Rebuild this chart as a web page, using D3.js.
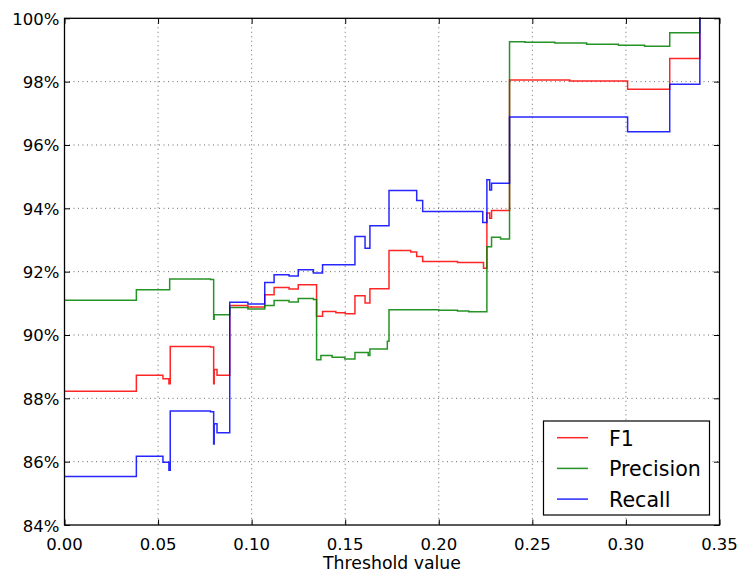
<!DOCTYPE html>
<html>
<head>
<meta charset="utf-8">
<script src="https://cdn.jsdelivr.net/npm/d3@7"></script>
<style>
  body { margin: 0; background: #fff; }
  svg { font-family: "DejaVu Sans", sans-serif; }
</style>
</head>
<body>
<div id="chart"></div>
<script>
// step curves: [threshold, percent]
const f1Points = [
    [0, 88.22], [0.0384, 88.73], [0.0526, 88.62], [0.0558, 88.46], [0.0565, 89.64],
    [0.0780, 89.62], [0.0797, 88.46], [0.0800, 88.91], [0.0815, 88.73], [0.0883, 90.93],
    [0.0980, 90.88], [0.1070, 91.27], [0.1120, 91.50], [0.1200, 91.45], [0.1249, 91.59],
    [0.1347, 90.59], [0.1379, 90.74], [0.1450, 90.70], [0.1500, 90.67], [0.1552, 91.24],
    [0.1606, 91.01], [0.1632, 91.46], [0.1734, 92.67], [0.1850, 92.62], [0.1882, 92.48],
    [0.1914, 92.32], [0.2100, 92.29], [0.2239, 92.11], [0.2257, 93.85], [0.2272, 93.69],
    [0.2282, 93.93], [0.2378, 98.05], [0.2700, 98.02], [0.3009, 97.76], [0.3234, 98.73],
    [0.3395, 100], [0.3400, 100]
]
const precisionPoints = [
    [0, 91.10], [0.0384, 91.43], [0.0562, 91.77], [0.0780, 91.75], [0.0797, 90.50],
    [0.0800, 90.64], [0.0883, 90.87], [0.0980, 90.82], [0.1070, 90.93], [0.1120, 91.09],
    [0.1200, 91.04], [0.1249, 91.15], [0.1330, 91.12], [0.1347, 89.22], [0.1370, 89.35],
    [0.1430, 89.30], [0.1498, 89.24], [0.1552, 89.45], [0.1623, 89.35], [0.1632, 89.56],
    [0.1725, 89.80], [0.1734, 90.80], [0.2000, 90.78], [0.2100, 90.76], [0.2160, 90.73],
    [0.2257, 92.79], [0.2282, 93.09], [0.2330, 93.03], [0.2378, 99.26], [0.2460, 99.24],
    [0.2620, 99.22], [0.2790, 99.18], [0.2960, 99.15], [0.3100, 99.12], [0.3234, 99.54],
    [0.3395, 100], [0.3400, 100]
]
const recallPoints = [
    [0, 85.53], [0.0384, 86.17], [0.0526, 85.98], [0.0558, 85.73], [0.0565, 87.60],
    [0.0780, 87.58], [0.0797, 86.56], [0.0800, 87.20], [0.0815, 86.91], [0.0883, 91.03],
    [0.0980, 90.98], [0.1070, 91.66], [0.1120, 91.90], [0.1200, 91.86], [0.1249, 92.06],
    [0.1330, 91.96], [0.1379, 92.22], [0.1552, 93.11], [0.1606, 92.74], [0.1632, 93.45],
    [0.1734, 94.56], [0.1882, 94.25], [0.1914, 93.90], [0.2235, 93.55], [0.2257, 94.90],
    [0.2272, 94.58], [0.2282, 94.79], [0.2378, 96.88], [0.3009, 96.42], [0.3234, 97.92],
    [0.3395, 100], [0.3400, 100]
]
const seriesNames = ["F1", "Precision", "Recall"]
const seriesColors = ["#ff0000", "#008000", "#0000ff"]
const xTicks = [0, 0.05, 0.10, 0.15, 0.20, 0.25, 0.30, 0.35]
const yTicks = [84, 86, 88, 90, 92, 94, 96, 98, 100]
const xAxisLabel = "Threshold value"

const width = 741, height = 576
const plot = {left: 64.5, right: 719.5, top: 18.3, bottom: 525}

const svg = d3.select("#chart").append("svg")
    .attr("width", width)
    .attr("height", height)

const x = d3.scaleLinear().domain([0, 0.35]).range([plot.left, plot.right])
const y = d3.scaleLinear().domain([84, 100]).range([plot.bottom, plot.top])

svg.append("defs").append("clipPath").attr("id", "plotClip")
    .append("rect")
    .attr("x", plot.left).attr("y", plot.top - 1)
    .attr("width", plot.right - plot.left).attr("height", plot.bottom - plot.top + 1)

// dotted grid
const grid = svg.append("g")
grid.selectAll(".vgrid").data(xTicks.slice(1, -1)).enter().append("line")
    .attr("x1", d => x(d)).attr("x2", d => x(d))
    .attr("y1", plot.top).attr("y2", plot.bottom)
    .attr("stroke", "#444").attr("stroke-width", 0.8)
    .attr("stroke-dasharray", "1,3.5")
grid.selectAll(".hgrid").data(yTicks.slice(1, -1)).enter().append("line")
    .attr("x1", plot.left).attr("x2", plot.right)
    .attr("y1", d => y(d)).attr("y2", d => y(d))
    .attr("stroke", "#444").attr("stroke-width", 0.8)
    .attr("stroke-dasharray", "1,3.5")

// the three step curves
const line = d3.line()
    .x(d => x(d[0]))
    .y(d => y(d[1]))
    .curve(d3.curveStepAfter)
const lines = svg.append("g").attr("clip-path", "url(#plotClip)")
;[f1Points, precisionPoints, recallPoints].forEach(function (pts, i) {
    lines.append("path")
        .datum(pts)
        .attr("fill", "none")
        .attr("stroke", seriesColors[i])
        .attr("stroke-width", 1.5)
        .attr("stroke-opacity", 0.85)
        .attr("d", line)
})

// axes: ticks pointing inward on all four sides, labels only bottom/left
const tickLen = 5.5
svg.append("g")
    .attr("transform", "translate(0," + plot.bottom + ")")
    .call(d3.axisTop(x).tickValues(xTicks).tickSize(tickLen).tickFormat(""))
    .call(g => g.select(".domain").remove())
svg.append("g")
    .attr("transform", "translate(0," + plot.top + ")")
    .call(d3.axisBottom(x).tickValues(xTicks).tickSize(tickLen).tickFormat(""))
    .call(g => g.select(".domain").remove())
svg.append("g")
    .attr("transform", "translate(" + plot.left + ",0)")
    .call(d3.axisRight(y).tickValues(yTicks).tickSize(tickLen).tickFormat(""))
    .call(g => g.select(".domain").remove())
svg.append("g")
    .attr("transform", "translate(" + plot.right + ",0)")
    .call(d3.axisLeft(y).tickValues(yTicks).tickSize(tickLen).tickFormat(""))
    .call(g => g.select(".domain").remove())
svg.selectAll(".tick line").attr("stroke", "#000").attr("stroke-width", 1)

svg.append("g").selectAll("text").data(xTicks).enter().append("text")
    .attr("x", d => x(d))
    .attr("y", plot.bottom + 19)
    .attr("text-anchor", "middle")
    .attr("dominant-baseline", "central")
    .attr("font-size", 16.5)
    .attr("fill", "#000")
    .text(d => d3.format(".2f")(d))
svg.append("g").selectAll("text").data(yTicks).enter().append("text")
    .attr("x", plot.left - 5)
    .attr("y", d => y(d) + 1)
    .attr("text-anchor", "end")
    .attr("dominant-baseline", "central")
    .attr("font-size", 16.5)
    .attr("fill", "#000")
    .text(d => d + "%")

svg.append("rect")
    .attr("x", plot.left).attr("y", plot.top)
    .attr("width", plot.right - plot.left).attr("height", plot.bottom - plot.top)
    .attr("fill", "none").attr("stroke", "#000").attr("stroke-width", 1.3)

svg.append("text")
    .attr("x", (plot.left + plot.right) / 2)
    .attr("y", plot.bottom + 38)
    .attr("text-anchor", "middle")
    .attr("dominant-baseline", "central")
    .attr("font-size", 17.3)
    .attr("fill", "#000")
    .text(xAxisLabel)

// legend
const legend = svg.append("g")
legend.append("rect")
    .attr("x", 543.5).attr("y", 421)
    .attr("width", 166).attr("height", 94)
    .attr("fill", "#fff").attr("stroke", "#000").attr("stroke-width", 1.2)
seriesNames.forEach(function (name, i) {
    const ly = 437.7 + i * 30.7
    legend.append("line")
        .attr("x1", 557).attr("x2", 588)
        .attr("y1", ly).attr("y2", ly)
        .attr("stroke", seriesColors[i]).attr("stroke-width", 1.5).attr("stroke-opacity", 0.85)
    legend.append("text")
        .attr("x", 609).attr("y", ly + 1)
        .attr("dominant-baseline", "central")
        .attr("font-size", 20.6)
        .attr("fill", "#000")
        .text(name)
})
</script>
</body>
</html>
